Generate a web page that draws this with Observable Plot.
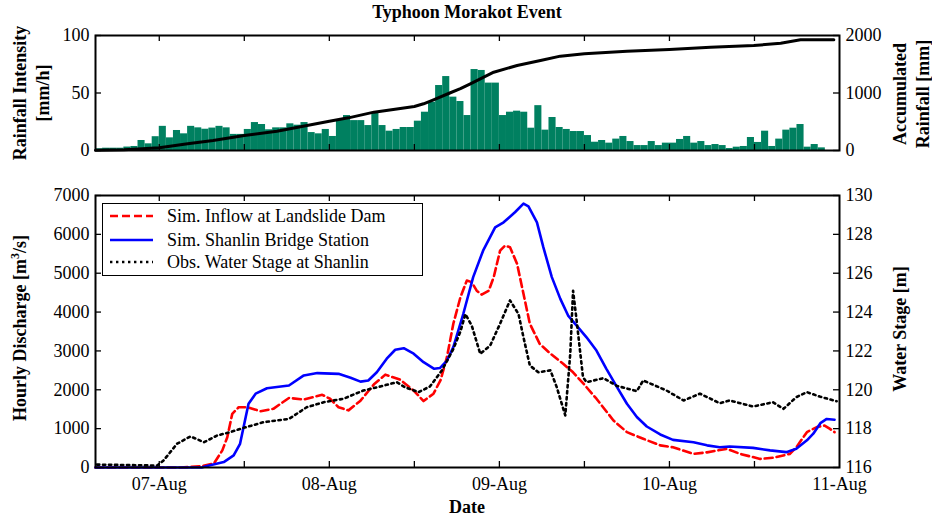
<!DOCTYPE html>
<html><head><meta charset="utf-8">
<script src="https://cdn.jsdelivr.net/npm/d3@7"></script>
<script src="https://cdn.jsdelivr.net/npm/@observablehq/plot@0.6"></script>
<style>
body{margin:0;background:#fff;}
#wrap{position:relative;width:932px;height:519px;font-family:"Liberation Serif","Times New Roman",serif;color:#000;overflow:hidden;}
#wrap > svg{position:absolute;left:0;overflow:visible;}
#wrap svg text{font-family:"Liberation Serif","Times New Roman",serif;font-size:18px;font-variant:normal;}
.lab{position:absolute;white-space:nowrap;font-weight:bold;font-size:18px;line-height:23px;text-align:center;transform:translate(-50%,-50%) rotate(-90deg);}
.hlab{position:absolute;white-space:nowrap;font-weight:bold;font-size:18px;transform:translate(-50%,0);}
#legend{position:absolute;left:102px;top:203px;width:321px;height:73px;border:1.5px solid #000;background:#fff;box-sizing:border-box;font-size:18px;}
#legend .row{position:absolute;left:0;height:22px;display:flex;align-items:center;}
#legend .row svg{position:static;margin-left:7px;margin-right:14px;}
</style></head><body><div id="wrap"></div><script>
// ---- time axis: hours counted from 06-Aug-2009 15:00 ----
const startUTC = Date.UTC(2009, 7, 6, 15);
const endHour = 105;

// ---- rainfall intensity, hourly [mm/h], hour 0 .. 104 ----
const rainIntensity = [
  1.5,2,2,2,3,3.5,8.7,5.8,12,21,
  11,17.4,14.5,21,19.7,18.5,19.5,21,19.7,14,
  14,18.3,24.3,22.6,18,19.7,19.7,23.2,22,24.3,
  15.6,14.5,18.3,12.2,26.7,30.4,26,26,21.7,32.5,
  21.7,16.8,18.3,20,20,25.5,33.3,42,56.5,64.3,
  46.4,42.6,
  30.4,70.4,69.6,58.6,58.6,30.4,33.3,34.2,33.3,19.4,
  39,17.7,28.7,20,18.3,16.5,16.5,13,7.2,8.7,
  6.4,9.9,12.2,7.8,4.3,4.3,7.8,4.3,6.4,6.4,
  9.6,12.2,6.4,7.8,4.3,5.2,4.3,1.7,2.9,3.5,
  11.3,7,16.8,3.5,9.9,17.7,19.4,22.6,2.9,5.2,2.3,0,0
];

// ---- accumulated rainfall [mm] ----
const accHours = [0,4,6,9,13,16.6,21,25.6,33,35.7,39.3,45,46.3,47.7,50,51.5,52.9,56.2,59.5,62.8,65.6,69,75,81,86.8,92.9,96.7,99.5,104.2];
const accRain  = [5,12,25,47,116,174,261,336,510,568,667,765,812,881,1000,1075,1160,1362,1478,1565,1641,1681,1727,1757,1797,1826,1866,1925,1925];

// ---- simulated inflow at landslide dam [m3/s] ----
const inflowHours = [0,12,14.8,16.7,17.9,18.6,19.3,20.2,21.4,23.3,25.1,27.3,29.4,32,33.1,34.3,35.7,37.4,39.3,40.9,43,44.9,46.3,47.7,48.7,49.6,50.5,51.5,52.4,53.1,53.8,54.5,55.5,56.2,57.1,57.8,58.5,59.5,60.4,61.3,62.7,64.2,66,67.4,68.9,70.7,73.1,75,77.3,79.7,81.5,84.4,86.3,89.1,91,93.8,95.6,98,98.9,100.4,101.8,102.9,103.6,104.3];
const inflowQ     = [0,0,30,100,440,780,1380,1550,1550,1450,1510,1790,1750,1870,1770,1550,1470,1720,2140,2390,2260,1980,1710,1900,2250,2840,3700,4380,4810,4770,4550,4450,4550,4900,5580,5710,5670,5240,4470,3700,3180,2930,2670,2450,2150,1770,1210,910,740,570,520,350,390,480,350,220,250,350,520,910,1040,1080,1000,910];

// ---- simulated discharge at Shanlin Bridge station [m3/s] ----
const bridgeHours = [0,15,15.6,18.1,19.5,20.4,21.2,21.6,22.6,24.2,25.6,27.3,29.4,31.3,34.3,36,37.4,38.5,39.7,41.1,42.3,43.5,44.9,46.3,47.8,48.6,49.6,50.5,51.9,53.3,54.7,56.4,57.6,59.2,60.4,61.1,62.3,63.2,64.4,65.6,66.7,67.9,69.3,70.7,72.1,73.6,75,76.4,77.8,79.7,81.5,84.4,86.3,88.1,89.5,92.8,95.2,97.5,98.9,100.4,101.3,102.3,103.2,104.3];
const bridgeQ     = [0,0,30,140,310,610,1300,1640,1900,2040,2070,2110,2370,2430,2410,2310,2210,2240,2450,2800,3030,3070,2930,2710,2540,2560,2750,3100,3950,4900,5580,6180,6310,6570,6790,6720,6310,5670,4900,4340,3910,3650,3350,3010,2540,2070,1640,1300,1055,850,710,650,570,520,540,505,440,395,480,700,870,1140,1250,1230];

// ---- observed water stage at Shanlin [m] ----
const stageHours = [0.2,8.7,9.6,11.5,13.4,15.3,17.2,19,20.9,23.7,27.3,29.8,32.2,35,37.8,40.2,42.5,43.7,45.6,47.2,48.9,50.5,51.5,52.2,53.1,54.3,55.7,57.1,58.5,59.7,60.4,61.3,62.5,64.2,65.1,66.3,67,67.4,67.9,68.8,69.3,71.7,73.6,76.4,77.3,80.6,83,85.3,88.1,89.5,92.8,95.6,97.1,98.9,100.4,102.2,104.6];
const stageM     = [116.15,116.1,116.36,117.22,117.6,117.3,117.65,117.82,118.04,118.33,118.5,119.1,119.36,119.54,119.96,120.17,120.39,120.13,119.88,120.17,121.0,122.1,123.0,123.9,123.3,121.85,122.28,123.4,124.6,123.9,122.7,121.25,120.9,121.0,120.13,118.68,121.85,125.1,123.57,120.65,120.39,120.6,120.2,119.93,120.48,119.96,119.45,119.8,119.31,119.45,119.14,119.36,119.02,119.62,119.88,119.65,119.41];

// ---- axis ticks and labels ----
const rainTicks = [0, 50, 100];
const accTicks = [0, 1000, 2000];
const dischargeTicks = [0, 1000, 2000, 3000, 4000, 5000, 6000, 7000];
const stageTicks = [116, 118, 120, 122, 124, 126, 128, 130];
const dayLabels = ["07-Aug", "08-Aug", "09-Aug", "10-Aug", "11-Aug"];

// scale factors of the secondary axes onto the primary ones
const accToRain = 100 / 2000;
const stageBase = 116, stageToQ = 7000 / 14;

const T = h => new Date(startUTC + h * 3600e3);
const dayTicks = dayLabels.map((_, i) => new Date(Date.UTC(2009, 7, 7 + i)));
const halfDayTicks = d3.utcHour.every(12).range(T(0), T(endHour));

const bars = rainIntensity.map((v, i) => ({t0: T(i), t1: T(i + 1), v}));
const acc = accHours.map((h, i) => ({t: T(h), v: accRain[i]}));
const inflow = inflowHours.map((h, i) => ({t: T(h), q: inflowQ[i]}));
const bridge = bridgeHours.map((h, i) => ({t: T(h), q: bridgeQ[i]}));
const stage = stageHours.map((h, i) => ({t: T(h), s: stageM[i]}));

const font = {fontFamily: "Liberation Serif, serif", fontSize: "18px", background: "transparent", color: "#000", overflow: "visible"};
const W = 932, ML = 95, MR = 93, TL = 6;
const frameW = W - ML - MR;

// short inward tick marks on all four sides of a panel (insets leave only TL px)
function innerTicks(xTicks, yTicks, frameH) {
  const st = {stroke: "#000", strokeWidth: 1.3};
  return [
    Plot.tickX(xTicks, {x: d => d, insetBottom: frameH - TL, ...st}),
    Plot.tickX(xTicks, {x: d => d, insetTop: frameH - TL, ...st}),
    Plot.tickY(yTicks, {y: d => d, insetRight: frameW - TL, ...st}),
    Plot.tickY(yTicks, {y: d => d, insetLeft: frameW - TL, ...st})
  ];
}
const lab = {tickSize: 0, tickPadding: 6, label: null};

const rainH = 135, rainMT = 10, rainMB = 10;
const rainPlot = Plot.plot({
  width: W, height: rainH, marginTop: rainMT, marginBottom: rainMB, marginLeft: ML, marginRight: MR,
  style: font,
  x: {type: "utc", domain: [T(0), T(endHour)], axis: null},
  y: {domain: [0, 100]},
  marks: [
    Plot.rectY(bars, {x1: "t0", x2: "t1", y: "v", fill: "#008060"}),
    Plot.line(acc, {x: "t", y: d => d.v * accToRain, stroke: "#000", strokeWidth: 3}),
    ...innerTicks(halfDayTicks, rainTicks, rainH - rainMT - rainMB),
    Plot.axisY(rainTicks, {anchor: "left", ...lab, tickFormat: d => String(d)}),
    Plot.axisY(accTicks.map(v => v * accToRain), {anchor: "right", ...lab, tickFormat: (d, i) => String(accTicks[i])}),
    Plot.frame({stroke: "#000", strokeWidth: 2})
  ]
});
rainPlot.style.top = "25px";

const flowH = 359, flowMT = 35, flowMB = 52;
const flowPlot = Plot.plot({
  width: W, height: flowH, marginTop: flowMT, marginBottom: flowMB, marginLeft: ML, marginRight: MR,
  style: font,
  x: {type: "utc", domain: [T(0), T(endHour)]},
  y: {domain: [0, 7000]},
  marks: [
    Plot.line(inflow, {x: "t", y: "q", stroke: "#ff0000", strokeWidth: 2.6, strokeDasharray: "8,4"}),
    Plot.line(bridge, {x: "t", y: "q", stroke: "#0000ff", strokeWidth: 2.6}),
    Plot.line(stage, {x: "t", y: d => (d.s - stageBase) * stageToQ, stroke: "#000", strokeWidth: 2.6, strokeDasharray: "2.4,3.6"}),
    ...innerTicks(halfDayTicks, dischargeTicks, flowH - flowMT - flowMB),
    Plot.axisX(dayTicks, {anchor: "bottom", tickSize: 0, tickPadding: 10, label: null,
      tickFormat: (d, i) => dayLabels[i]}),
    Plot.axisY(dischargeTicks, {anchor: "left", ...lab, tickFormat: d => String(d)}),
    Plot.axisY(stageTicks.map(s => (s - stageBase) * stageToQ), {anchor: "right", ...lab,
      tickFormat: (d, i) => String(stageTicks[i])}),
    Plot.frame({stroke: "#000", strokeWidth: 2})
  ]
});
flowPlot.style.top = "160px";

const wrap = document.getElementById("wrap");
wrap.appendChild(rainPlot);
wrap.appendChild(flowPlot);

function addDiv(cls, html, x, y) {
  const d = document.createElement("div");
  d.className = cls; d.innerHTML = html;
  d.style.left = x + "px"; d.style.top = y + "px";
  wrap.appendChild(d);
  return d;
}
addDiv("hlab", "Typhoon Morakot Event", 467, 2);
addDiv("lab", "Rainfall Intensity<br>[mm/h]", 31.5, 93);
addDiv("lab", "Accumulated<br>Rainfall [mm]", 911.5, 94);
addDiv("lab", "Hourly Discharge [m<sup style='font-size:12px;line-height:0'>3</sup>/s]", 20, 328);
addDiv("lab", "Water Stage [m]", 900, 329);
addDiv("hlab", "Date", 467, 497);

// legend
const legendItems = [
  {name: "Sim. Inflow at Landslide Dam", color: "#ff0000", dash: "8,4", w: 2.6},
  {name: "Sim. Shanlin Bridge Station", color: "#0000ff", dash: null, w: 2.6},
  {name: "Obs. Water Stage at Shanlin", color: "#000", dash: "2.4,3.6", w: 2.6}
];
const leg = document.createElement("div");
leg.id = "legend";
const rowTops = [1, 25, 47];
legendItems.forEach((it, i) => {
  const r = document.createElement("div");
  r.className = "row";
  r.style.top = rowTops[i] + "px";
  r.innerHTML = `<svg width="43" height="10"><line x1="0" y1="5" x2="43" y2="5" stroke="${it.color}" stroke-width="${it.w}" ${it.dash ? `stroke-dasharray="${it.dash}"` : ""}/></svg><span>${it.name}</span>`;
  leg.appendChild(r);
});
wrap.appendChild(leg);
</script></body></html>
